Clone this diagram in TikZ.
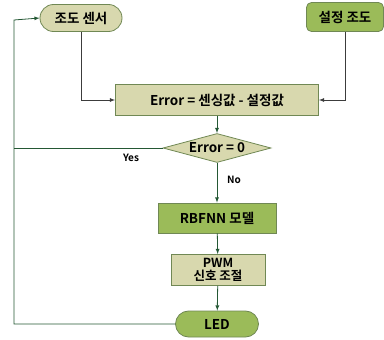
\documentclass[tikz,border=0pt]{standalone}
\usepackage{fontspec}
\setmainfont{Noto Sans CJK KR}[BoldFont={Noto Sans CJK KR Bold}]
\usepackage{tikz}
\usetikzlibrary{shapes.geometric, shapes.misc}
\definecolor{khaki}{RGB}{216, 216, 174}
\definecolor{leaf}{RGB}{155, 187, 89}
\definecolor{rim}{RGB}{112, 136, 84}
\definecolor{flow}{RGB}{36, 88, 52}
\definecolor{feed}{RGB}{60, 60, 60}

\begin{document}
\begin{tikzpicture}[x=1pt, y=-1pt, font=\bfseries\fontsize{13.5}{15}\selectfont,
  box/.style={draw=rim, thick, inner sep=0pt, align=center},
  arr/.style={->, >=latex, thick, flow},
  feedarr/.style={->, >=latex, thick, feed}]
\useasboundingbox (0,0) rectangle (384,340);
% Input nodes
\node[box, rounded rectangle, fill=khaki, minimum width=82pt, minimum height=27pt] (sensor) at (81,18) {조도 센서};
\node[box, rounded corners=5pt, fill=leaf, minimum width=77pt, minimum height=29pt] (target) at (345,17) {설정 조도};

% Main flow
\node[box, fill=khaki, minimum width=203pt, minimum height=31pt] (err) at (217,100) {Error = 센싱값 - 설정값};
\node[box, diamond, aspect=3.7, fill=khaki, minimum width=108pt, minimum height=29pt, inner sep=-4pt] (dec) at (217,148) {Error = 0};
\node[box, fill=leaf, minimum width=118pt, minimum height=30pt] (rbf) at (217,218) {RBFNN 모델};
\node[box, fill=khaki, minimum width=94pt, minimum height=31pt, font=\bfseries\fontsize{12.5}{13}\selectfont] (pwm) at (218,270) {PWM\\신호 조절};
\node[box, rounded rectangle, fill=leaf, minimum width=83pt, minimum height=26pt] (led) at (217,324) {LED};
\coordinate (lft) at (14,20);

% Edges
\draw[feedarr] (sensor.south) |- (err.west);
\draw[feedarr] (target.south) |- (err.east);
\draw[arr] (err) -- (dec);
\draw[arr] (dec) -- (rbf);
\draw[arr] (rbf) -- (pwm);
\draw[arr] (pwm) -- (led);
\draw[arr] (led.west) -| (lft) -- (sensor.west);
\draw[thick, flow] (dec.west) -- (dec.west -| lft);

% Labels
\node[font=\bfseries\fontsize{10}{11}\selectfont] (yes) at (131,158) {Yes};
\node[font=\bfseries\fontsize{10}{11}\selectfont] (no) at (234,180) {No};
\end{tikzpicture}
\end{document}
